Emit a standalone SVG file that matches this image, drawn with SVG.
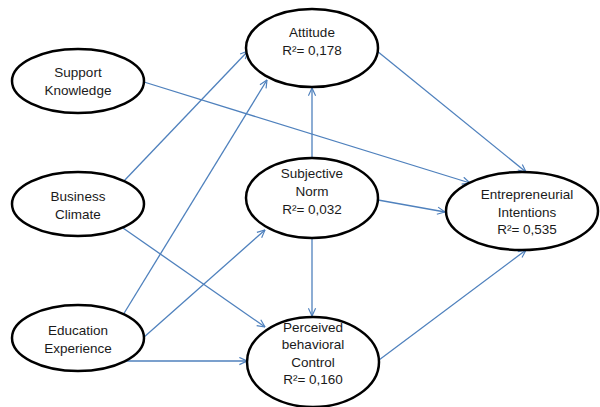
<svg xmlns="http://www.w3.org/2000/svg" width="600" height="407" viewBox="0 0 600 407">
<defs>
<marker id="arr" viewBox="0 0 10 10" refX="9.5" refY="5" markerWidth="9" markerHeight="9" markerUnits="userSpaceOnUse" orient="auto">
<path d="M1,1 L9.5,5 L1,9" fill="none" stroke="#4f81bd" stroke-width="1.3"/>
</marker>
<style>
.n ellipse{fill:#fff;stroke:#000;stroke-width:2.5}
.n text{font-family:"Liberation Sans",Arial,sans-serif;font-size:13.5px;fill:#1a1a1a;text-anchor:middle}
#edges line{stroke:#4f81bd;stroke-width:1.3;marker-end:url(#arr)}
</style>
</defs>
<rect width="600" height="407" fill="#fff"/>
<g id="edges">
<line x1="144" y1="82" x2="470" y2="183"/>
<line x1="123" y1="182" x2="248" y2="51"/>
<line x1="123" y1="315" x2="267" y2="80"/>
<line x1="143" y1="338" x2="265" y2="230"/>
<line x1="123" y1="361" x2="247" y2="361"/>
<line x1="123" y1="228" x2="265" y2="327"/>
<line x1="312" y1="158" x2="312" y2="88"/>
<line x1="312" y1="238" x2="312" y2="316"/>
<line x1="378" y1="200" x2="445" y2="212"/>
<line x1="377" y1="51" x2="526" y2="172"/>
<line x1="379" y1="360" x2="526" y2="250"/>
</g>
<g id="attitude" class="n">
<ellipse cx="312" cy="48" rx="66" ry="39"/>
<text x="312" y="37">Attitude</text>
<text x="312" y="55">R²= 0,178</text>
</g>
<g id="support" class="n">
<ellipse cx="78" cy="81" rx="66" ry="32"/>
<text x="78" y="77">Support</text>
<text x="78" y="95">Knowledge</text>
</g>
<g id="business" class="n">
<ellipse cx="78" cy="204" rx="66" ry="32"/>
<text x="78" y="201">Business</text>
<text x="78" y="219">Climate</text>
</g>
<g id="education" class="n">
<ellipse cx="78" cy="338" rx="66" ry="33"/>
<text x="78" y="335">Education</text>
<text x="78" y="353">Experience</text>
</g>
<g id="subjective" class="n">
<ellipse cx="312" cy="198" rx="66" ry="40"/>
<text x="312" y="178">Subjective</text>
<text x="312" y="196">Norm</text>
<text x="312" y="214">R²= 0,032</text>
</g>
<g id="intentions" class="n">
<ellipse cx="522" cy="211" rx="76" ry="39"/>
<text x="527" y="199">Entrepreneurial</text>
<text x="527" y="217">Intentions</text>
<text x="527" y="234">R²= 0,535</text>
</g>
<g id="pbc" class="n">
<ellipse cx="313" cy="362" rx="66" ry="45"/>
<text x="313" y="332">Perceived</text>
<text x="313" y="349">behavioral</text>
<text x="313" y="367">Control</text>
<text x="313" y="384">R²= 0,160</text>
</g>
</svg>
